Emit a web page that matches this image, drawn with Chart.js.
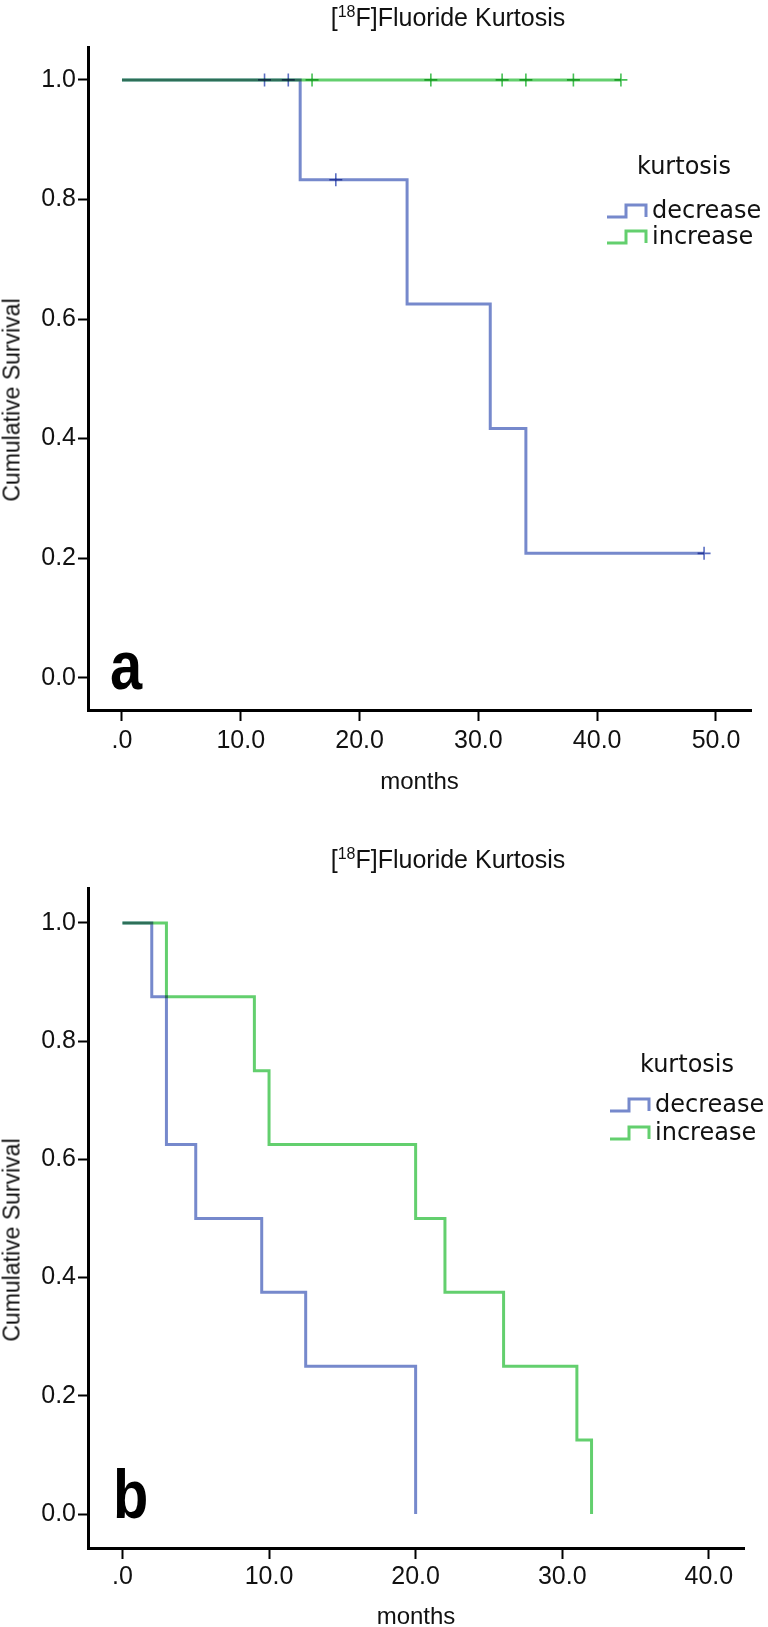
<!DOCTYPE html>
<html>
<head>
<meta charset="utf-8">
<script src="https://cdn.jsdelivr.net/npm/chart.js@4.4.1/dist/chart.umd.min.js"></script>
<style>
  html, body { margin: 0; padding: 0; background: #fff; }
  body { width: 768px; height: 1627px; position: relative; overflow: hidden; }
  .panel { position: absolute; left: 0; width: 768px; }
  #panelA { top: 0; height: 813px; }
  #panelB { top: 813px; height: 830px; }
  .title { position: absolute; left: 0; width: 896px; text-align: center;
           font: 25px "Liberation Sans", Arial, sans-serif; color: #111; white-space: nowrap; }
  .title sup { font-size: 16px; vertical-align: 9px; }
  .ytitle { position: absolute; left: 0; width: 24px; height: 0; color: #111;
            font: 23px "Liberation Sans", Arial, sans-serif; white-space: nowrap; }
  .ytitle span { position: absolute; left: 50%; top: 0; transform: translate(-50%, -50%) rotate(-90deg); }
  .letter { position: absolute; font: bold 68px "Liberation Sans", Arial, sans-serif; color: #000;
            transform: scaleX(0.85); transform-origin: left top; line-height: 1; }
</style>
</head>
<body>
<div class="panel" id="panelA">
  <canvas id="chartA" width="768" height="813"></canvas>
  <div class="title" style="top:3px">[<sup>18</sup>F]Fluoride Kurtosis</div>
  <div class="ytitle" style="top:400px"><span>Cumulative Survival</span></div>
  <div class="letter" style="left:110px; top:631px">a</div>
</div>
<div class="panel" id="panelB">
  <canvas id="chartB" width="768" height="830"></canvas>
  <div class="title" style="top:32px">[<sup>18</sup>F]Fluoride Kurtosis</div>
  <div class="ytitle" style="top:427px"><span>Cumulative Survival</span></div>
  <div class="letter" style="left:113px; top:647px">b</div>
</div>
<script>
// ---- data ----
const groups = ['decrease', 'increase'];
const yTicks = [0, 0.2, 0.4, 0.6, 0.8, 1.0];
const yTickLabels = ['0.0', '0.2', '0.4', '0.6', '0.8', '1.0'];

// panel a
const aDecTime = [0, 15, 24, 31, 34, 49];
const aDecSurv = [1, 0.833, 0.625, 0.417, 0.208, 0.208];
const aIncTime = [0, 42];
const aIncSurv = [1, 1];
const aDecCensTime = [12, 14, 18, 49];
const aDecCensSurv = [1, 1, 0.833, 0.208];
const aIncCensTime = [16, 26, 32, 34, 38, 42];
const aIncCensSurv = [1, 1, 1, 1, 1, 1];
const aXTicks = [0, 10, 20, 30, 40, 50];
const aXTickLabels = ['.0', '10.0', '20.0', '30.0', '40.0', '50.0'];

// panel b
const bDecTime = [0, 2, 3, 5, 9.5, 12.5, 20];
const bDecSurv = [1, 0.875, 0.625, 0.5, 0.375, 0.25, 0];
const bIncTime = [0, 3, 9, 10, 20, 22, 26, 31, 32];
const bIncSurv = [1, 0.875, 0.75, 0.625, 0.5, 0.375, 0.25, 0.125, 0];
const bXTicks = [0, 10, 20, 30, 40];
const bXTickLabels = ['.0', '10.0', '20.0', '30.0', '40.0'];

const blue = '#7689cc';
const green = '#63cf6e';
const tickFont = { family: '"Liberation Sans", Arial, sans-serif', size: 25 };
const axisTitleFont = { family: '"Liberation Sans", Arial, sans-serif', size: 24 };

const pts = (xs, ys) => xs.map((x, i) => ({ x: x, y: ys[i] }));

// lines overlap like in the original (darker where both curves run together)
const multiplyPlugin = {
  id: 'multiply',
  beforeDatasetsDraw(chart) { chart.ctx.save(); chart.ctx.globalCompositeOperation = 'multiply'; },
  afterDatasetsDraw(chart) { chart.ctx.restore(); }
};

// SPSS style legend with step icons, inside the plot
const kmLegend = {
  id: 'kmLegend',
  afterDraw(chart, args, opts) {
    const ctx = chart.ctx;
    ctx.save();
    ctx.font = '24px "DejaVu Sans", Verdana, sans-serif';
    ctx.fillStyle = '#111';
    ctx.textBaseline = 'middle';
    ctx.fillText(opts.title, opts.x + 30, opts.titleY);
    chart.data.datasets.slice(0, 2).forEach((ds, i) => {
      const y = opts.rowY[i];
      ctx.strokeStyle = ds.borderColor;
      ctx.lineWidth = 3;
      ctx.beginPath();
      ctx.moveTo(opts.x, y + 5);
      ctx.lineTo(opts.x + 19, y + 5);
      ctx.lineTo(opts.x + 19, y - 7);
      ctx.lineTo(opts.x + 39, y - 7);
      ctx.lineTo(opts.x + 39, y + 5);
      ctx.stroke();
      ctx.fillText(ds.label, opts.x + 45, y);
    });
    ctx.restore();
  }
};

function buildPanel(canvasId, p) {
  return new Chart(document.getElementById(canvasId), {
    type: 'line',
    data: {
      datasets: [
        { label: groups[0], data: pts(p.decTime, p.decSurv), borderColor: blue, borderWidth: 3,
          stepped: 'before', pointRadius: 0, fill: false },
        { label: groups[1], data: pts(p.incTime, p.incSurv), borderColor: green, borderWidth: 3,
          stepped: 'before', pointRadius: 0, fill: false },
        { type: 'scatter', label: groups[0] + ' censored', data: pts(p.decCensTime, p.decCensSurv),
          pointStyle: 'cross', pointRadius: 6.5, borderColor: '#5a6ec2', borderWidth: 1.6, showLine: false },
        { type: 'scatter', label: groups[1] + ' censored', data: pts(p.incCensTime, p.incCensSurv),
          pointStyle: 'cross', pointRadius: 6.5, borderColor: '#45c054', borderWidth: 1.6, showLine: false }
      ]
    },
    options: {
      animation: false,
      responsive: false,
      layout: { padding: { top: p.top, right: p.right, left: 0, bottom: 0 } },
      plugins: { legend: { display: false }, tooltip: { enabled: false }, kmLegend: p.legend },
      scales: {
        x: {
          type: 'linear', min: p.xMin, max: p.xMax,
          afterBuildTicks: s => { s.ticks = p.xTicks.map(v => ({ value: v })); },
          afterFit: s => { s.height = p.xAxisH; },
          ticks: { callback: (v, i) => p.xTickLabels[i], font: tickFont, color: '#111', padding: p.xLabelPad,
                   maxRotation: 0, autoSkip: false },
          grid: { drawOnChartArea: false, drawTicks: true, tickLength: 11, tickWidth: 2, tickColor: '#000' },
          border: { display: true, color: '#000', width: 3 },
          title: { display: true, text: 'months', font: axisTitleFont, color: '#111',
                   padding: { top: 0, bottom: p.monthsPad } }
        },
        y: {
          type: 'linear', min: p.yMin, max: p.yMax,
          afterBuildTicks: s => { s.ticks = yTicks.map(v => ({ value: v })); },
          afterFit: s => { s.width = 88; },
          ticks: { callback: (v, i) => yTickLabels[i], font: tickFont, color: '#111', padding: 2 },
          grid: { drawOnChartArea: false, drawTicks: true, tickLength: 10, tickWidth: 2, tickColor: '#000' },
          border: { display: true, color: '#000', width: 3 },
          title: { display: false }
        }
      }
    },
    plugins: [multiplyPlugin, kmLegend]
  });
}

buildPanel('chartA', {
  decTime: aDecTime, decSurv: aDecSurv, incTime: aIncTime, incSurv: aIncSurv,
  decCensTime: aDecCensTime, decCensSurv: aDecCensSurv, incCensTime: aIncCensTime, incCensSurv: aIncCensSurv,
  xTicks: aXTicks, xTickLabels: aXTickLabels,
  xMin: -2.86, xMax: 52.95, yMin: -0.054, yMax: 1.055,
  top: 47, right: 17, xAxisH: 813 - 710, xLabelPad: 5, monthsPad: 16,
  legend: { title: 'kurtosis', x: 607, titleY: 168, rowY: [212, 238] }
});

buildPanel('chartB', {
  decTime: bDecTime, decSurv: bDecSurv, incTime: bIncTime, incSurv: bIncSurv,
  decCensTime: [], decCensSurv: [], incCensTime: [], incCensSurv: [],
  xTicks: bXTicks, xTickLabels: bXTickLabels,
  xMin: -2.35, xMax: 42.4, yMin: -0.0575, yMax: 1.059,
  top: 75, right: 24, xAxisH: 830 - 735, xLabelPad: 3, monthsPad: 11,
  legend: { title: 'kurtosis', x: 610, titleY: 253, rowY: [293, 321] }
});
</script>
</body>
</html>
